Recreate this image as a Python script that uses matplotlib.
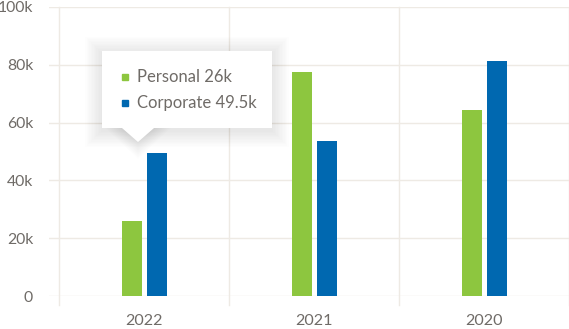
import matplotlib.pyplot as plt
import numpy as np
from matplotlib.patches import Rectangle, Polygon

plt.rcParams['font.family'] = ['Lato', 'DejaVu Sans']

# Datos por año (miles)
years = ['2022', '2021', '2020']
personal = [26, 77.5, 64.4]
corporate = [49.5, 53.6, 81.3]
y_ticks = [0, 20, 40, 60, 80, 100]
y_labels = ['0', '20k', '40k', '60k', '80k', '100k']

green = '#8dc63f'
blue = '#0068b0'
grid_color = '#eeeae4'
text_color = '#6f6b67'

fig = plt.figure(figsize=(5.69, 3.29), dpi=100)
W, H = 569, 329
ax = fig.add_axes([49 / W, 1 - 296 / H, (569 - 49) / W, (296 - 7) / H])

x = np.arange(len(years))
bw = 20 / 170
off = 12.5 / 170
ax.bar(x - off, personal, width=bw, color=green, zorder=3)
ax.bar(x + off, corporate, width=bw, color=blue, zorder=3)

ax.set_xlim(-0.5 - 10 / 170, 2.5)
ax.set_ylim(0, 100)
ax.set_yticks(y_ticks, y_labels)
ax.set_xticks(x, years)
ax.tick_params(axis='y', length=0, pad=11.5, labelsize=11.3, labelcolor=text_color)
ax.tick_params(axis='x', length=0, pad=13, labelsize=11.6, labelcolor=text_color)
ax.yaxis.grid(True, color=grid_color, linewidth=1, zorder=0)
for s in ax.spines.values():
    s.set_visible(False)

# separadores verticales entre años
for xv in [-0.5, 0.5, 1.5, 2.5]:
    ax.axvline(xv, ymin=-0.031, ymax=1, color=grid_color, linewidth=1,
               clip_on=False, zorder=0)

# Tooltip del año 2022
def px2data(px, py):
    return (px - 59) / 170 - 0.5, (296 - py) / 2.89

bx0, by0 = px2data(102, 128)
bx1, by1 = px2data(272, 51)
tip = px2data(138, 142)
tl = px2data(122, 128)
tr = px2data(154, 128)

# sombra suave
for i in range(12, 0, -1):
    dx = i * 1.4 / 170
    dy = i * 1.4 / 2.89
    ax.add_patch(Rectangle((bx0 - dx, by0 - dy - 0.8), (bx1 - bx0) + 2 * dx,
                           (by1 - by0) + 2 * dy, facecolor='black',
                           alpha=0.008, edgecolor='none', zorder=5))
    ax.add_patch(Polygon([(tl[0] - dx, tl[1]), (tr[0] + dx, tr[1]),
                          (tip[0], tip[1] - dy)], closed=True,
                         facecolor='black', alpha=0.008, edgecolor='none',
                         zorder=5))
ax.add_patch(Rectangle((bx0, by0), bx1 - bx0, by1 - by0, facecolor='white',
                       edgecolor='none', zorder=6))
ax.add_patch(Polygon([tl, tr, tip], closed=True, facecolor='white',
                     edgecolor='none', zorder=6))

rows = [('Personal', personal[0], green, 77), ('Corporate', corporate[0], blue, 103)]
for name, val, col, py in rows:
    mx, my = px2data(125, py)
    ax.plot(mx, my, marker='s', markersize=5, color=col, zorder=7)
    tx, ty = px2data(137, py)
    ax.text(tx, ty, f'{name} {val:g}k', fontsize=12, color=text_color,
            va='center', ha='left', zorder=7)

fig.savefig('out.png', dpi=100)
